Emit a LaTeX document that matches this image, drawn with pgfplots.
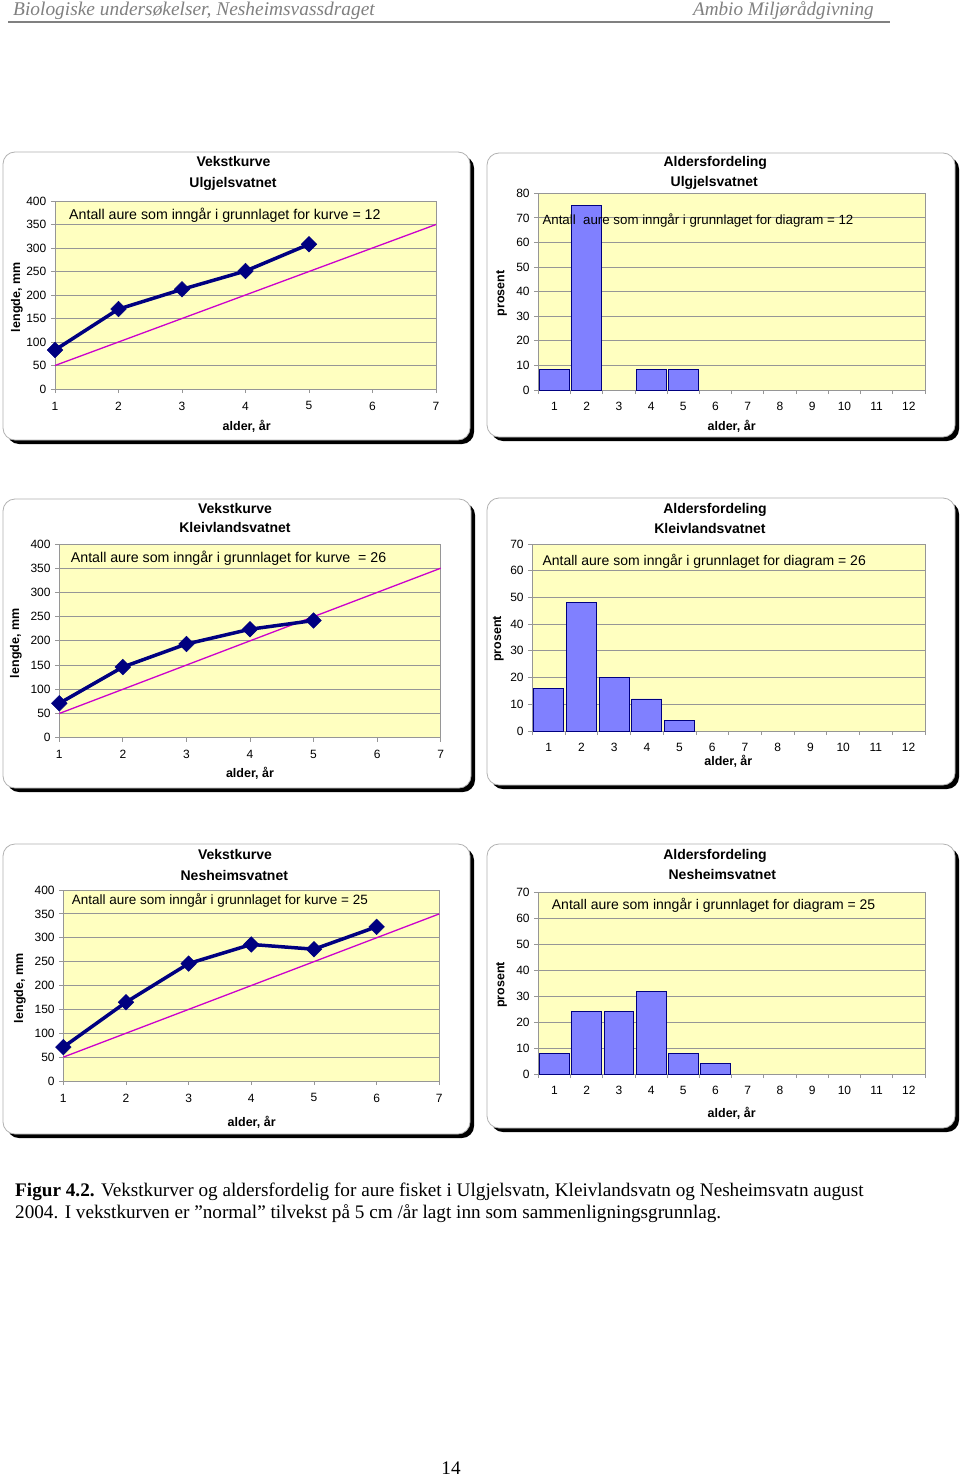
\documentclass[border=0pt]{standalone}
\usepackage{fontspec}
\setmainfont{Liberation Sans}
\newfontfamily\serif{Liberation Serif}
\usepackage{pgfplots}
\pgfplotsset{compat=1.18}

\definecolor{plotyellow}{RGB}{255,255,192}
\definecolor{gridgray}{RGB}{150,150,150}
\definecolor{navyline}{RGB}{0,0,128}
\definecolor{barblue}{RGB}{128,128,255}
\definecolor{refmag}{RGB}{204,0,204}
\definecolor{hdrgray}{RGB}{128,128,128}

\newcommand{\fs}[1]{\fontsize{#1}{#1}\selectfont}

\pgfplotsset{
  excel/.style={
    scale only axis, anchor=south west,
    axis background/.style={fill=plotyellow},
    axis line style={draw=gridgray, line width=0.8pt},
    ymajorgrids, grid style={draw=gridgray, line width=0.8pt},
    tick align=outside, tick pos=left,
    major tick length=4pt, minor tick length=4pt,
    tick style={draw=gridgray, line width=0.8pt},
    ticklabel style={font=\fs{12}},
    /pgf/number format/assume math mode=true,
    yticklabel style={anchor=east, inner sep=0pt, xshift=-4.5pt},
    clip=false,
  },
  growth/.style={excel, xmin=1, xmax=7, ymin=0, ymax=400, xtick={1,...,7}, ytick={0,50,...,400},
     xticklabel style={anchor=center, inner sep=0pt, yshift=-12.9pt}},
  dist/.style={excel, xmin=0.5, xmax=12.5, ymin=0, xtick={0.5,1.5,...,12.5}, xticklabels={},
     extra x ticks={1,2,3,4,5,6,7,8,9,10,11,12}, extra x tick labels={1,2,3,4,5,6,7,8,9,10,11,12},
     extra x tick style={major tick length=0pt},
     xticklabel style={anchor=center, inner sep=0pt, yshift=-16.3pt},
  },
  refline/.style={refmag, line width=1.3pt},
  growthline/.style={navyline, line width=3.5pt, mark=square*, mark size=5.5pt,
     mark options={rotate=45, line width=0.5pt, fill=navyline, draw=navyline}},
  bars/.style={ybar, bar width=0.92, fill=barblue, draw=navyline, line width=0.8pt},
}

\newcommand{\chartframe}[4]{%
  \fill[black, rounded corners=12pt] (#1+4,-#2-4) rectangle (#3+4,-#4-4);
  \filldraw[fill=white, draw=gray!60, line width=0.8pt, rounded corners=12pt] (#1,-#2) rectangle (#3,-#4);
}

\begin{document}
\begin{tikzpicture}[x=1pt,y=1pt]
\useasboundingbox (0,0) rectangle (960,-1477);
\fill[white] (0,0) rectangle (960,-1477);

% header
\node[anchor=base west, font=\serif\itshape\fs{19.4}, text=hdrgray, inner sep=0pt] at (13,-16) {Biologiske undersøkelser, Nesheimsvassdraget};
\node[anchor=base east, font=\serif\itshape\fs{19.2}, text=hdrgray, inner sep=0pt] at (874,-16) {Ambio Miljørådgivning};
\draw[hdrgray, line width=1.5pt] (8,-22) -- (890,-22);

% frames
\chartframe{3}{152}{470}{440}
\chartframe{487}{153}{955}{437}
\chartframe{3}{499}{471}{788}
\chartframe{487}{498}{955}{785}
\chartframe{3}{844}{470}{1134}
\chartframe{487}{844}{955}{1128}

% ---------- Chart 1 ----------
\begin{axis}[growth, at={(55pt,-389pt)}, width=381pt, height=188pt]
\addplot[refline] coordinates {(1,50) (7,350)};
\addplot[growthline] coordinates {(1,83) (2,170) (3,212) (4,251) (5,308)};
\end{axis}
\node[anchor=base, font=\fs{14}\bfseries, inner sep=0pt] at (233.5,-166.7) {Vekstkurve};
\node[anchor=base, font=\fs{14}\bfseries, inner sep=0pt] at (233,-187.7) {Ulgjelsvatnet};
\node[anchor=base west, font=\fs{14.2}, inner sep=0pt] at (69,-219.3) {Antall aure som inngår i grunnlaget for kurve = 12};
\node[rotate=90, font=\fs{12.5}\bfseries, inner sep=0pt] at (17,-297.3) {lengde, mm};
\node[anchor=base, font=\fs{12.5}\bfseries, inner sep=0pt] at (246.7,-430) {alder, år};

% ---------- Chart 2 ----------
\begin{axis}[dist, at={(538.3pt,-390pt)}, width=386.7pt, height=196.7pt, ymax=80, ytick={0,10,...,80}]
\addplot[bars] coordinates {(1,8.33) (2,75) (4,8.33) (5,8.33)};
\end{axis}
\node[anchor=base, font=\fs{14}\bfseries, inner sep=0pt] at (715.3,-166.7) {Aldersfordeling};
\node[anchor=base, font=\fs{14}\bfseries, inner sep=0pt] at (714.3,-186.7) {Ulgjelsvatnet};
\node[anchor=base west, font=\fs{13.3}, inner sep=0pt] at (542.3,-224) {Antall\ \ aure som inngår i grunnlaget for diagram = 12};
\node[rotate=90, font=\fs{12.5}\bfseries, inner sep=0pt] at (501.7,-293.3) {prosent};
\node[anchor=base, font=\fs{12.5}\bfseries, inner sep=0pt] at (731.7,-430) {alder, år};

% ---------- Chart 3 ----------
\begin{axis}[growth, at={(59.3pt,-737.7pt)}, width=381.4pt, height=193.7pt]
\addplot[refline] coordinates {(1,50) (7,350)};
\addplot[growthline] coordinates {(1,71) (2,146) (3,193.5) (4,224) (5,242)};
\end{axis}
\node[anchor=base, font=\fs{14}\bfseries, inner sep=0pt] at (235,-513.3) {Vekstkurve};
\node[anchor=base, font=\fs{14}\bfseries, inner sep=0pt] at (235,-532.3) {Kleivlandsvatnet};
\node[anchor=base west, font=\fs{14.2}, inner sep=0pt] at (70.7,-562.7) {Antall aure som inngår i grunnlaget for kurve\ \ = 26};
\node[rotate=90, font=\fs{12.5}\bfseries, inner sep=0pt] at (16,-643.3) {lengde, mm};
\node[anchor=base, font=\fs{12.5}\bfseries, inner sep=0pt] at (250,-777.7) {alder, år};

% ---------- Chart 4 ----------
\begin{axis}[dist, at={(532.3pt,-731pt)}, width=392.7pt, height=187pt, ymax=70, ytick={0,10,...,70}]
\addplot[bars] coordinates {(1,16) (2,48) (3,20) (4,12) (5,4)};
\end{axis}
\node[anchor=base, font=\fs{14}\bfseries, inner sep=0pt] at (715,-513.3) {Aldersfordeling};
\node[anchor=base, font=\fs{14}\bfseries, inner sep=0pt] at (710,-533.3) {Kleivlandsvatnet};
\node[anchor=base west, font=\fs{14}, inner sep=0pt] at (542.3,-565.7) {Antall aure som inngår i grunnlaget for diagram = 26};
\node[rotate=90, font=\fs{12.5}\bfseries, inner sep=0pt] at (498.3,-639) {prosent};
\node[anchor=base, font=\fs{12.5}\bfseries, inner sep=0pt] at (728.3,-765.7) {alder, år};

% ---------- Chart 5 ----------
\begin{axis}[growth, at={(63.3pt,-1081pt)}, width=376pt, height=191pt]
\addplot[refline] coordinates {(1,50) (7,350)};
\addplot[growthline] coordinates {(1,71) (2,165) (3,246) (4,286) (5,276) (6,323)};
\end{axis}
\node[anchor=base, font=\fs{14}\bfseries, inner sep=0pt] at (235,-859.3) {Vekstkurve};
\node[anchor=base, font=\fs{14}\bfseries, inner sep=0pt] at (234.3,-880.7) {Nesheimsvatnet};
\node[anchor=base west, font=\fs{13.5}, inner sep=0pt] at (71.7,-904) {Antall aure som inngår i grunnlaget for kurve = 25};
\node[rotate=90, font=\fs{12.5}\bfseries, inner sep=0pt] at (20,-988.3) {lengde, mm};
\node[anchor=base, font=\fs{12.5}\bfseries, inner sep=0pt] at (251.7,-1126) {alder, år};

% ---------- Chart 6 ----------
\begin{axis}[dist, at={(538.3pt,-1074pt)}, width=386.7pt, height=181.3pt, ymax=70, ytick={0,10,...,70}]
\addplot[bars] coordinates {(1,8) (2,24) (3,24) (4,32) (5,8) (6,4)};
\end{axis}
\node[anchor=base, font=\fs{14}\bfseries, inner sep=0pt] at (715,-859.3) {Aldersfordeling};
\node[anchor=base, font=\fs{14}\bfseries, inner sep=0pt] at (722.3,-879.3) {Nesheimsvatnet};
\node[anchor=base west, font=\fs{14}, inner sep=0pt] at (551.7,-909.3) {Antall aure som inngår i grunnlaget for diagram = 25};
\node[rotate=90, font=\fs{12.5}\bfseries, inner sep=0pt] at (501.7,-985) {prosent};
\node[anchor=base, font=\fs{12.5}\bfseries, inner sep=0pt] at (731.7,-1117.7) {alder, år};

% caption
\node[anchor=base west, font=\serif\fs{19.2}, inner sep=0pt] at (15,-1196) {\textbf{Figur 4.2.} Vekstkurver og aldersfordelig for aure fisket i Ulgjelsvatn, Kleivlandsvatn og Nesheimsvatn august};
\node[anchor=base west, font=\serif\fs{19.2}, inner sep=0pt] at (15,-1218) {2004. I vekstkurven er ”normal” tilvekst på 5 cm /år lagt inn som sammenligningsgrunnlag.};
\node[anchor=base, font=\serif\fs{19.2}, inner sep=0pt] at (451,-1474) {14};
\end{tikzpicture}
\end{document}
